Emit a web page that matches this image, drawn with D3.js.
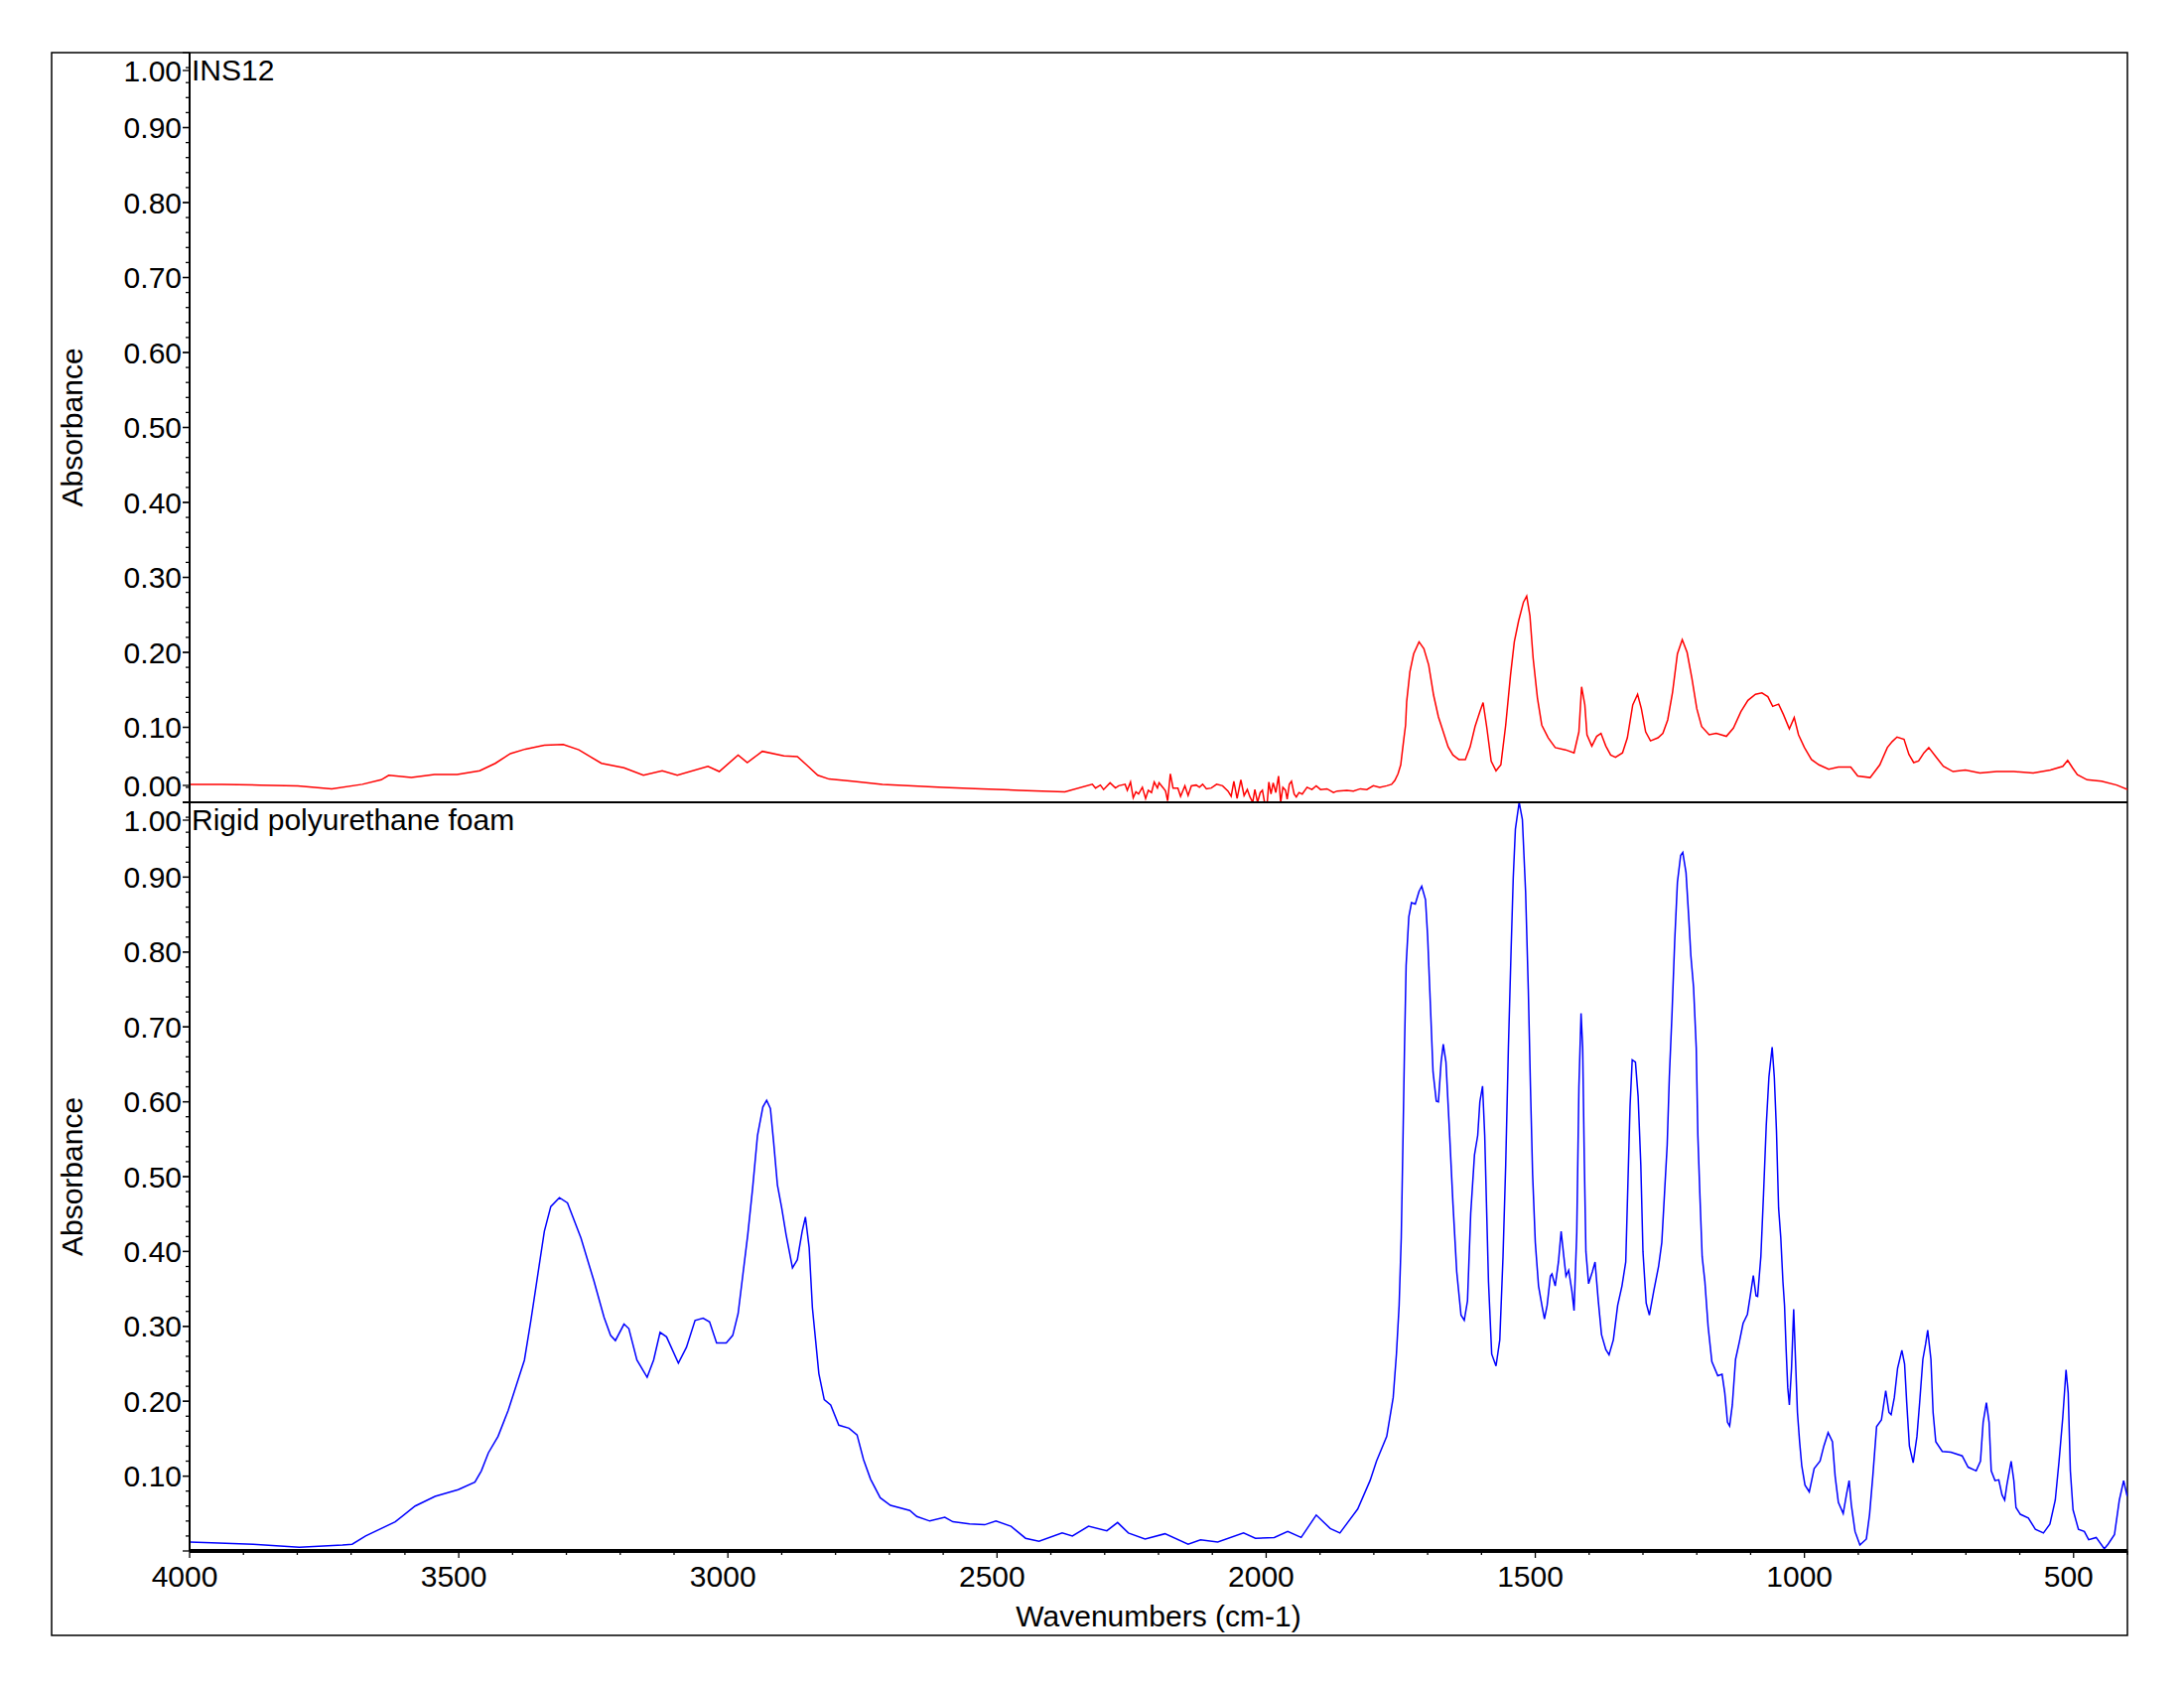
<!DOCTYPE html>
<html>
<head>
<meta charset="utf-8">
<script src="https://cdn.jsdelivr.net/npm/d3@7"></script>
<style>
  body { margin: 0; background: #fff; }
  svg { display: block; }
  text { font-family: "Liberation Sans", Arial, sans-serif; font-size: 30px; fill: #000; }
</style>
</head>
<body>
<svg id="chart" width="2200" height="1700"></svg>
<script>
// INS12 spectrum (top panel), wavenumber / absorbance
const insWn = [4000, 3940, 3870, 3799, 3736, 3679, 3644, 3630, 3588, 3545, 3503, 3461, 3432, 3404, 3376, 3341, 3306, 3277, 3235, 3193,
  3157, 3122, 3094, 3037, 3016, 2981, 2964, 2936, 2896, 2871, 2854, 2833, 2812, 2769, 2713, 2656, 2600, 2529, 2459, 2374,
  2323, 2317, 2308, 2302, 2290, 2280, 2274, 2262, 2258, 2252, 2247, 2242, 2237, 2230, 2224, 2219, 2213, 2208, 2202, 2199,
  2191, 2187, 2183, 2178, 2173, 2164, 2159, 2151, 2145, 2139, 2130, 2124, 2118, 2111, 2102, 2092, 2081, 2071, 2065, 2060,
  2054, 2047, 2041, 2035, 2030, 2025, 2021, 2016, 2011, 2007, 2003, 1998, 1995, 1991, 1987, 1982, 1977, 1973, 1969, 1964,
  1961, 1957, 1953, 1948, 1944, 1939, 1933, 1924, 1915, 1907, 1899, 1887, 1875, 1868, 1850, 1838, 1825, 1813, 1801, 1789,
  1776, 1767, 1761, 1755, 1750, 1747, 1744, 1741, 1739, 1733, 1726, 1716, 1707, 1698, 1689, 1680, 1671, 1662, 1653, 1642,
  1630, 1621, 1612, 1603, 1597, 1590, 1582, 1573, 1564, 1555, 1546, 1539, 1531, 1522, 1516, 1510, 1504, 1496, 1488, 1476,
  1463, 1444, 1428, 1419, 1414, 1408, 1404, 1395, 1386, 1378, 1369, 1360, 1351, 1338, 1329, 1319, 1310, 1303, 1295, 1286,
  1272, 1263, 1254, 1245, 1236, 1227, 1218, 1209, 1200, 1191, 1177, 1164, 1145, 1132, 1118, 1105, 1091, 1079, 1068, 1059,
  1048, 1039, 1028, 1019, 1011, 1000, 987, 973, 955, 937, 914, 901, 878, 860, 846, 837, 828, 815, 806, 797,
  788, 778, 769, 756, 742, 724, 701, 674, 643, 611, 575, 543, 520, 511, 502, 493, 475, 448, 420, 400];
const insAbs = [0.024, 0.024, 0.023, 0.022, 0.018, 0.024, 0.030, 0.036, 0.033, 0.037, 0.037, 0.042, 0.052, 0.065, 0.071, 0.076, 0.077, 0.070, 0.052, 0.046,
  0.036, 0.042, 0.036, 0.048, 0.041, 0.063, 0.053, 0.068, 0.062, 0.061, 0.050, 0.036, 0.031, 0.028, 0.024, 0.022, 0.020, 0.018, 0.016, 0.014,
  0.024, 0.019, 0.023, 0.017, 0.026, 0.019, 0.022, 0.024, 0.016, 0.027, 0.006, 0.014, 0.011, 0.020, 0.005, 0.016, 0.013, 0.027, 0.019, 0.026,
  0.019, 0.015, 0.002, 0.038, 0.019, 0.019, 0.008, 0.022, 0.009, 0.022, 0.023, 0.020, 0.024, 0.018, 0.019, 0.024, 0.022, 0.015, 0.008, 0.028,
  0.005, 0.030, 0.009, 0.017, 0.007, 0.000, 0.017, 0.000, 0.013, 0.016, 0.000, 0.000, 0.027, 0.011, 0.026, 0.013, 0.035, 0.000, 0.020, 0.016,
  0.004, 0.024, 0.028, 0.011, 0.007, 0.013, 0.011, 0.020, 0.017, 0.022, 0.017, 0.018, 0.013, 0.015, 0.016, 0.015, 0.018, 0.017, 0.022, 0.020,
  0.022, 0.024, 0.029, 0.038, 0.050, 0.068, 0.086, 0.103, 0.134, 0.174, 0.198, 0.214, 0.205, 0.183, 0.143, 0.114, 0.094, 0.074, 0.063, 0.057,
  0.057, 0.074, 0.101, 0.121, 0.133, 0.099, 0.055, 0.042, 0.050, 0.103, 0.170, 0.214, 0.242, 0.267, 0.275, 0.249, 0.192, 0.139, 0.103, 0.086,
  0.073, 0.070, 0.066, 0.094, 0.154, 0.130, 0.090, 0.075, 0.088, 0.092, 0.075, 0.063, 0.060, 0.066, 0.086, 0.130, 0.144, 0.125, 0.094, 0.082,
  0.086, 0.092, 0.110, 0.147, 0.198, 0.217, 0.200, 0.165, 0.125, 0.101, 0.090, 0.092, 0.088, 0.099, 0.121, 0.136, 0.144, 0.146, 0.141, 0.128,
  0.131, 0.117, 0.098, 0.113, 0.090, 0.073, 0.057, 0.050, 0.044, 0.047, 0.047, 0.035, 0.033, 0.050, 0.073, 0.081, 0.087, 0.084, 0.064, 0.053,
  0.055, 0.066, 0.073, 0.061, 0.048, 0.041, 0.043, 0.039, 0.041, 0.041, 0.039, 0.043, 0.048, 0.056, 0.046, 0.037, 0.030, 0.028, 0.023, 0.017];

// Rigid polyurethane foam spectrum (bottom panel)
const foamWn = [4000, 3959, 3882, 3796, 3716, 3698, 3673, 3618, 3581, 3544, 3501, 3470, 3458, 3445, 3427, 3408, 3390, 3378, 3366, 3353,
  3341, 3329, 3313, 3298, 3273, 3249, 3230, 3218, 3209, 3193, 3184, 3169, 3150, 3138, 3126, 3114, 3092, 3077, 3061, 3046,
  3034, 3021, 3003, 2991, 2981, 2972, 2963, 2954, 2945, 2935, 2928, 2921, 2915, 2908, 2900, 2892, 2880, 2871, 2862, 2856,
  2849, 2843, 2837, 2831, 2821, 2809, 2794, 2775, 2760, 2748, 2735, 2717, 2698, 2662, 2649, 2625, 2597, 2582, 2551, 2523,
  2502, 2474, 2447, 2422, 2379, 2360, 2330, 2296, 2276, 2256, 2225, 2188, 2145, 2122, 2090, 2042, 2020, 1985, 1960, 1935,
  1907, 1881, 1863, 1830, 1807, 1795, 1776, 1764, 1758, 1753, 1749, 1746, 1743, 1740, 1735, 1730, 1723, 1716, 1711, 1704,
  1700, 1695, 1690, 1684, 1680, 1675, 1671, 1666, 1660, 1653, 1646, 1638, 1632, 1626, 1620, 1613, 1607, 1603, 1598, 1594,
  1591, 1587, 1581, 1573, 1566, 1560, 1555, 1550, 1545, 1541, 1537, 1530, 1524, 1518, 1513, 1509, 1505, 1500, 1494, 1487,
  1483, 1478, 1472, 1469, 1463, 1457, 1452, 1447, 1443, 1438, 1432, 1428, 1423, 1419, 1415, 1412, 1409, 1406, 1401, 1394,
  1389, 1383, 1377, 1369, 1363, 1355, 1347, 1339, 1332, 1328, 1324, 1320, 1314, 1309, 1304, 1300, 1294, 1288, 1280, 1271,
  1265, 1260, 1255, 1251, 1246, 1241, 1236, 1230, 1226, 1220, 1215, 1211, 1206, 1201, 1198, 1194, 1190, 1185, 1179, 1172,
  1161, 1153, 1148, 1143, 1139, 1134, 1128, 1121, 1114, 1106, 1100, 1095, 1090, 1087, 1081, 1076, 1071, 1066, 1060, 1056,
  1052, 1048, 1044, 1040, 1037, 1034, 1031, 1028, 1024, 1020, 1017, 1013, 1009, 1005, 999, 991, 982, 971, 964, 956,
  948, 943, 937, 928, 922, 917, 913, 906, 897, 885, 879, 873, 866, 857, 849, 843, 839, 833, 827, 819,
  814, 810, 805, 798, 791, 786, 780, 775, 771, 765, 761, 756, 744, 728, 707, 696, 681, 673, 668, 662,
  657, 653, 646, 639, 633, 628, 624, 616, 611, 607, 599, 584, 571, 556, 544, 534, 527, 520, 514, 510,
  506, 501, 491, 480, 472, 458, 443, 436, 424, 415, 407, 401, 400];
const foamAbs = [0.012, 0.011, 0.009, 0.005, 0.008, 0.009, 0.020, 0.039, 0.060, 0.073, 0.082, 0.092, 0.107, 0.131, 0.153, 0.188, 0.228, 0.255, 0.308, 0.370,
  0.427, 0.460, 0.472, 0.465, 0.418, 0.361, 0.312, 0.288, 0.281, 0.303, 0.297, 0.255, 0.232, 0.255, 0.292, 0.286, 0.251, 0.272, 0.308, 0.311,
  0.306, 0.278, 0.278, 0.288, 0.317, 0.370, 0.423, 0.485, 0.555, 0.593, 0.602, 0.591, 0.546, 0.489, 0.458, 0.423, 0.378, 0.389, 0.427, 0.446,
  0.405, 0.325, 0.281, 0.237, 0.202, 0.195, 0.168, 0.164, 0.155, 0.122, 0.096, 0.071, 0.061, 0.054, 0.046, 0.040, 0.045, 0.039, 0.036, 0.035,
  0.040, 0.033, 0.017, 0.013, 0.024, 0.020, 0.033, 0.027, 0.038, 0.024, 0.016, 0.023, 0.009, 0.015, 0.012, 0.024, 0.017, 0.018, 0.026, 0.018,
  0.048, 0.030, 0.024, 0.056, 0.094, 0.120, 0.153, 0.205, 0.263, 0.328, 0.419, 0.542, 0.672, 0.782, 0.847, 0.866, 0.864, 0.881, 0.888, 0.870,
  0.821, 0.731, 0.640, 0.601, 0.600, 0.653, 0.677, 0.653, 0.568, 0.464, 0.373, 0.315, 0.308, 0.334, 0.451, 0.529, 0.555, 0.600, 0.621, 0.555,
  0.471, 0.360, 0.263, 0.247, 0.282, 0.393, 0.516, 0.672, 0.802, 0.899, 0.964, 1.000, 0.977, 0.880, 0.750, 0.620, 0.503, 0.412, 0.354, 0.325,
  0.310, 0.328, 0.367, 0.370, 0.354, 0.386, 0.427, 0.393, 0.367, 0.375, 0.347, 0.321, 0.425, 0.620, 0.718, 0.672, 0.523, 0.400, 0.357, 0.373,
  0.386, 0.334, 0.289, 0.269, 0.262, 0.282, 0.328, 0.354, 0.386, 0.490, 0.594, 0.656, 0.653, 0.607, 0.516, 0.400, 0.331, 0.315, 0.347, 0.380,
  0.412, 0.477, 0.542, 0.633, 0.718, 0.815, 0.893, 0.929, 0.933, 0.906, 0.847, 0.795, 0.753, 0.672, 0.555, 0.471, 0.393, 0.360, 0.300, 0.253,
  0.234, 0.236, 0.211, 0.172, 0.167, 0.195, 0.256, 0.279, 0.304, 0.316, 0.344, 0.368, 0.341, 0.340, 0.393, 0.477, 0.568, 0.633, 0.673, 0.633,
  0.562, 0.458, 0.419, 0.360, 0.328, 0.269, 0.218, 0.195, 0.244, 0.323, 0.263, 0.185, 0.146, 0.114, 0.088, 0.079, 0.110, 0.120, 0.140, 0.158,
  0.146, 0.100, 0.065, 0.050, 0.075, 0.094, 0.062, 0.026, 0.008, 0.016, 0.049, 0.100, 0.166, 0.175, 0.214, 0.185, 0.182, 0.205, 0.244, 0.268,
  0.250, 0.198, 0.140, 0.118, 0.153, 0.198, 0.256, 0.276, 0.295, 0.256, 0.185, 0.146, 0.133, 0.132, 0.127, 0.112, 0.107, 0.120, 0.172, 0.198,
  0.172, 0.107, 0.094, 0.095, 0.075, 0.068, 0.088, 0.120, 0.094, 0.058, 0.049, 0.044, 0.029, 0.024, 0.036, 0.068, 0.120, 0.179, 0.242, 0.211,
  0.107, 0.055, 0.029, 0.026, 0.015, 0.018, 0.003, 0.009, 0.022, 0.068, 0.094, 0.075, 0.073];

const xTickValues = [4000, 3500, 3000, 2500, 2000, 1500, 1000, 500];
const yLabelValues = [1.00, 0.90, 0.80, 0.70, 0.60, 0.50, 0.40, 0.30, 0.20, 0.10, 0.00];
const panelTitles = ["INS12", "Rigid polyurethane foam"];
const yAxisTitle = "Absorbance";
const xAxisTitle = "Wavenumbers (cm-1)";

const svg = d3.select("#chart");
const plotLeft = 191, plotRight = 2143, plotTop = 53, plotMid = 808, plotBottom = 1562;

const x = d3.scaleLinear().domain([4000, 400]).range([plotLeft, plotRight]);

const panels = [
  { title: panelTitles[0], wn: insWn, ab: insAbs, color: "#ff0000",
    y: d3.scaleLinear().domain([0, 1]).range([plotMid, plotTop]), y0: plotTop, y1: plotMid, showZero: true },
  { title: panelTitles[1], wn: foamWn, ab: foamAbs, color: "#0000ff",
    y: d3.scaleLinear().domain([0, 1]).range([plotBottom, plotMid]), y0: plotMid, y1: plotBottom, showZero: false }
];

// outer frame
svg.append("rect")
  .attr("x", 52).attr("y", 53).attr("width", 2143 - 52).attr("height", 1647 - 53)
  .attr("fill", "none").attr("stroke", "#000").attr("stroke-width", 1.5);

const defs = svg.append("defs");

panels.forEach((p, i) => {
  defs.append("clipPath").attr("id", "clip" + i)
    .append("rect").attr("x", plotLeft).attr("y", p.y0 - 1)
    .attr("width", plotRight - plotLeft).attr("height", p.y1 - p.y0 + 2);

  const data = p.wn.map((w, k) => [w, p.ab[k]]);
  const line = d3.line().x(d => x(d[0])).y(d => p.y(d[1]));

  svg.append("path")
    .datum(data)
    .attr("clip-path", `url(#clip${i})`)
    .attr("fill", "none")
    .attr("stroke", p.color)
    .attr("stroke-width", 1.5)
    .attr("d", line);

  // y ticks, minor every 0.02
  const g = svg.append("g");
  d3.range(0, 51).forEach(k => {
    const v = k / 50;
    const major = k % 5 === 0;
    g.append("line")
      .attr("x1", plotLeft - (major ? 7 : 4)).attr("x2", plotLeft)
      .attr("y1", p.y(v)).attr("y2", p.y(v))
      .attr("stroke", "#000").attr("stroke-width", 1.3);
  });

  // end labels are pushed inside the panel
  yLabelValues.forEach(v => {
    if (v === 0 && !p.showZero) return;
    const yy = Math.max(p.y0 + 18, Math.min(p.y1 - 17, p.y(v)));
    g.append("line")
      .attr("x1", plotLeft - 7).attr("x2", plotLeft)
      .attr("y1", yy).attr("y2", yy)
      .attr("stroke", "#000").attr("stroke-width", 1.3);
    g.append("text")
      .attr("x", plotLeft - 8).attr("y", yy).attr("dy", "0.35em")
      .attr("text-anchor", "end")
      .text(v.toFixed(2));
  });

  svg.append("text")
    .attr("x", plotLeft + 2).attr("y", p.y0 + 28)
    .text(p.title);

  svg.append("text")
    .attr("transform", `translate(83,${(p.y0 + p.y1) / 2}) rotate(-90)`)
    .attr("text-anchor", "middle")
    .text(yAxisTitle);
});

// divider between panels
svg.append("line")
  .attr("x1", plotLeft - 7).attr("x2", plotRight).attr("y1", plotMid).attr("y2", plotMid)
  .attr("stroke", "#000").attr("stroke-width", 2);

// y axis line
svg.append("line")
  .attr("x1", plotLeft).attr("x2", plotLeft).attr("y1", plotTop).attr("y2", plotBottom)
  .attr("stroke", "#000").attr("stroke-width", 2);

// x axis
const xg = svg.append("g");
d3.range(4000, 399, -100).forEach(v => {
  const major = v % 500 === 0;
  xg.append("line")
    .attr("x1", x(v)).attr("x2", x(v))
    .attr("y1", plotBottom).attr("y2", plotBottom + (major ? 7 : 4))
    .attr("stroke", "#000").attr("stroke-width", 1.3);
});
xTickValues.forEach(v => {
  xg.append("text")
    .attr("x", x(v) - 5).attr("y", 1598)
    .attr("text-anchor", "middle")
    .text(v);
});
xg.append("line")
  .attr("x1", plotLeft).attr("x2", plotRight).attr("y1", plotBottom).attr("y2", plotBottom)
  .attr("stroke", "#000").attr("stroke-width", 4);

svg.append("text")
  .attr("x", (plotLeft + plotRight) / 2).attr("y", 1638)
  .attr("text-anchor", "middle")
  .text(xAxisTitle);
</script>
</body>
</html>
